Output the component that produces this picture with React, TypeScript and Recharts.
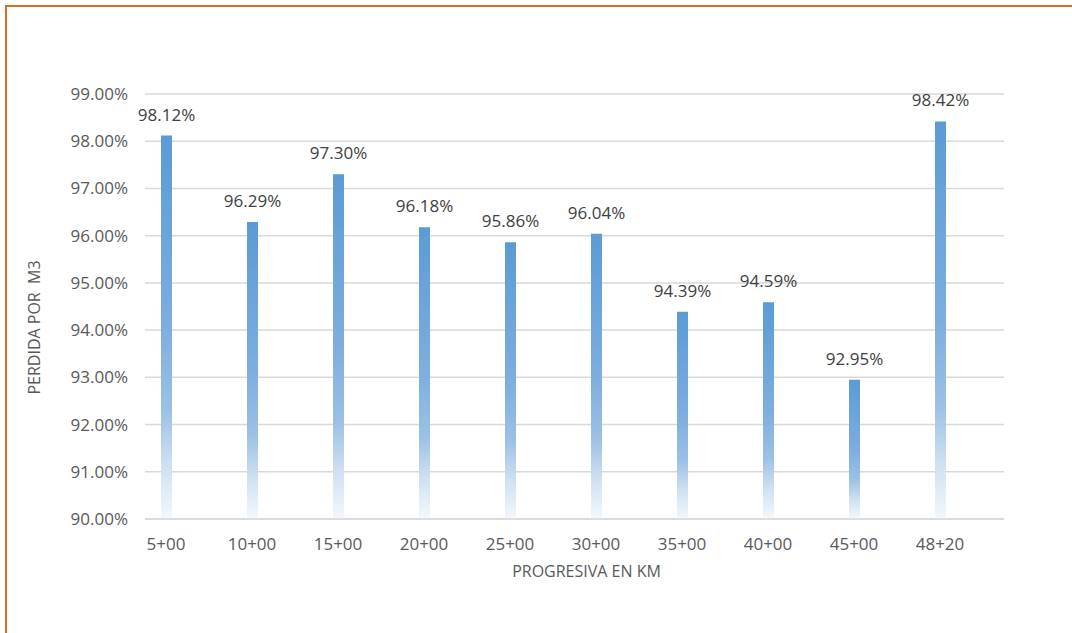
import React from "react";
import {
  BarChart,
  Bar,
  XAxis,
  YAxis,
  CartesianGrid,
  LabelList,
  Label,
} from "recharts";

// station labels along the road and loss per m3 at each one (%)
const stations = [
  "5+00",
  "10+00",
  "15+00",
  "20+00",
  "25+00",
  "30+00",
  "35+00",
  "40+00",
  "45+00",
  "48+20",
];
const lossPct = [98.12, 96.29, 97.3, 96.18, 95.86, 96.04, 94.39, 94.59, 92.95, 98.42];
const yTicks = [90, 91, 92, 93, 94, 95, 96, 97, 98, 99];

const data = stations.map((station, i) => ({ station, loss: lossPct[i] }));

const FONT = "'Open Sans', 'Noto Sans', sans-serif";
const AXIS_TEXT = "#595959";

const pct = (v: any) => `${Number(v).toFixed(2)}%`;

function YTitle(props: any) {
  const { x, y, height } = props.viewBox;
  const cx = x + 34;
  const cy = y + height / 2 + 21;
  return (
    <text
      x={cx}
      y={cy}
      transform={`rotate(-90 ${cx} ${cy})`}
      textAnchor="middle"
      dominantBaseline="central"
      fill={AXIS_TEXT}
      fontSize={16}
      fontFamily={FONT}
      style={{ whiteSpace: "pre" }}
    >
      {"PERDIDA POR  M3"}
    </text>
  );
}

function XTitle(props: any) {
  const { x, y, width } = props.viewBox;
  return (
    <text
      x={x + width / 2 + 12}
      y={y + 58}
      textAnchor="middle"
      fill={AXIS_TEXT}
      fontSize={16}
      fontFamily={FONT}
    >
      PROGRESIVA EN KM
    </text>
  );
}

export default function App() {
  return (
    <div
      style={{
        position: "absolute",
        left: 0,
        top: 0,
        width: 1072,
        height: 633,
        overflow: "hidden",
        background: "#ffffff",
      }}
    >
      {/* frame around the chart, open at the right and bottom */}
      <div
        style={{
          position: "absolute",
          left: 5,
          top: 5,
          width: 1100,
          height: 700,
          borderTop: "2px solid #D4702A",
          borderLeft: "2px solid #D4702A",
        }}
      />
      <div style={{ position: "absolute", left: 0, top: 0 }}>
        <BarChart
          width={1072}
          height={633}
          data={data}
          margin={{ top: 94, right: 68, left: 0, bottom: 54 }}
          barSize={11}
        >
          <defs>
            <linearGradient id="barFade" x1="0" y1="0" x2="0" y2="1">
              <stop offset="0" stopColor="#5B9BD5" />
              <stop offset="0.5" stopColor="#7DAEDF" />
              <stop offset="0.72" stopColor="#9CC1E5" />
              <stop offset="0.86" stopColor="#CFE0F2" />
              <stop offset="1" stopColor="#F3F8FC" />
            </linearGradient>
          </defs>
          <CartesianGrid vertical={false} stroke="#D9D9D9" strokeWidth={1.5} />
          <XAxis
            dataKey="station"
            height={60}
            padding={{ left: -22, right: 21 }}
            axisLine={{ stroke: "#D9D9D9", strokeWidth: 1.5 }}
            tickLine={false}
            tickSize={0}
            tickMargin={19}
            tick={{ fill: AXIS_TEXT, fontSize: 17, fontFamily: FONT }}
            interval={0}
          >
            <Label content={<XTitle />} />
          </XAxis>
          <YAxis
            width={145}
            domain={[90, 99]}
            ticks={yTicks}
            allowDataOverflow
            axisLine={false}
            tickLine={false}
            tickSize={0}
            tickMargin={17}
            tickFormatter={pct}
            tick={{ fill: AXIS_TEXT, fontSize: 17, fontFamily: FONT }}
          >
            <Label content={<YTitle />} />
          </YAxis>
          <Bar dataKey="loss" fill="url(#barFade)" isAnimationActive={false}>
            <LabelList
              dataKey="loss"
              position="top"
              offset={15}
              formatter={pct}
              fill="#404040"
              fontSize={17}
              fontFamily={FONT}
            />
          </Bar>
        </BarChart>
      </div>
    </div>
  );
}
